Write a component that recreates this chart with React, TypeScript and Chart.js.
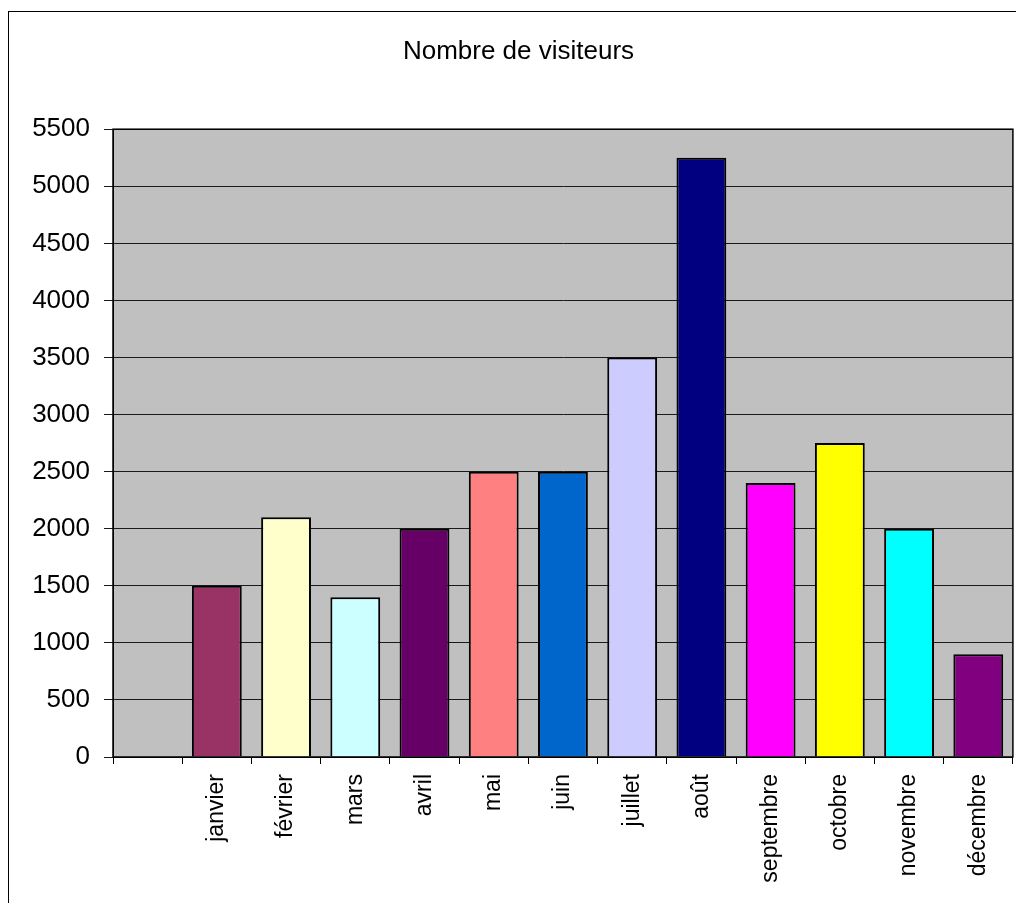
import React, { useEffect, useRef } from "react";
import { Chart, registerables } from "chart.js";

Chart.register(...registerables);

const TITLE = "Nombre de visiteurs";
const categories = ["", "janvier", "février", "mars", "avril", "mai", "juin", "juillet", "août", "septembre", "octobre", "novembre", "décembre"];
const visitors = [null, 1500, 2100, 1400, 2000, 2500, 2500, 3500, 5250, 2400, 2750, 2000, 900];
const barColors = ["#000000", "#993366", "#FFFFCC", "#CCFFFF", "#660066", "#FF8080", "#0066CC", "#CCCCFF", "#000080", "#FF00FF", "#FFFF00", "#00FFFF", "#800080"];
const yMin = 0;
const yMax = 5500;
const yStep = 500;

const FONT = "'Liberation Sans', Arial, sans-serif";

const plotPlugin = {
  id: "plotArea",
  beforeDraw(chart: any) {
    const { ctx, chartArea } = chart;
    ctx.save();
    ctx.fillStyle = "#C0C0C0";
    ctx.fillRect(chartArea.left, chartArea.top, chartArea.right - chartArea.left, chartArea.bottom - chartArea.top);
    ctx.restore();
  },
  afterDraw(chart: any) {
    const { ctx, chartArea } = chart;
    ctx.save();
    ctx.strokeStyle = "#000000";
    ctx.lineWidth = 1.5;
    ctx.strokeRect(chartArea.left, chartArea.top, chartArea.right - chartArea.left, chartArea.bottom - chartArea.top);
    ctx.restore();
  },
};

export default function App() {
  const ref = useRef<HTMLCanvasElement | null>(null);

  useEffect(() => {
    document.documentElement.style.overflow = "hidden";
    document.body.style.overflow = "hidden";
    const canvas = ref.current;
    if (!canvas) return;
    const chart = new Chart(canvas, {
      type: "bar",
      data: {
        labels: categories,
        datasets: [
          {
            data: visitors as any,
            backgroundColor: barColors,
            borderColor: "#000000",
            borderWidth: 2,
            categoryPercentage: 1,
            barPercentage: 0.72,
          },
        ],
      },
      options: {
        responsive: false,
        animation: false,
        devicePixelRatio: 1,
        layout: { padding: { left: 24, right: 3, top: 0, bottom: 0 } },
        plugins: {
          legend: { display: false },
          tooltip: { enabled: false },
          title: {
            display: true,
            text: TITLE,
            color: "#000000",
            font: { family: FONT, size: 26, weight: "normal" as any },
            padding: { top: 36, bottom: 62 },
          },
        },
        scales: {
          x: {
            offset: true,
            grid: {
              display: true,
              offset: true,
              drawOnChartArea: false,
              drawTicks: true,
              tickLength: 7,
              color: "#000000",
              lineWidth: 1,
            },
            border: { display: true, color: "#000000", width: 1 },
            ticks: {
              autoSkip: false,
              maxRotation: 90,
              minRotation: 90,
              padding: 10,
              color: "#000000",
              font: { family: FONT, size: 23 },
            },
            afterFit(scale: any) {
              scale.height = 146;
            },
          },
          y: {
            min: yMin,
            max: yMax,
            grid: {
              display: true,
              drawOnChartArea: true,
              drawTicks: true,
              tickLength: 9,
              color: "#1a1a1a",
              lineWidth: 1,
            },
            border: { display: true, color: "#000000", width: 1 },
            ticks: {
              stepSize: yStep,
              padding: 14,
              color: "#000000",
              font: { family: FONT, size: 26 },
              callback: (v: any) => String(v),
            },
            afterFit(scale: any) {
              scale.width = 89;
            },
          },
        },
      },
      plugins: [plotPlugin],
    });
    return () => chart.destroy();
  }, []);

  return (
    <>
      <div
        style={{
          position: "fixed",
          left: 8,
          top: 11,
          right: -10,
          bottom: -10,
          border: "1px solid #000",
          background: "#fff",
        }}
      />
      <canvas
        ref={ref}
        width={1016}
        height={903}
        style={{ position: "fixed", left: 0, top: 0, width: 1016, height: 903 }}
      />
    </>
  );
}
